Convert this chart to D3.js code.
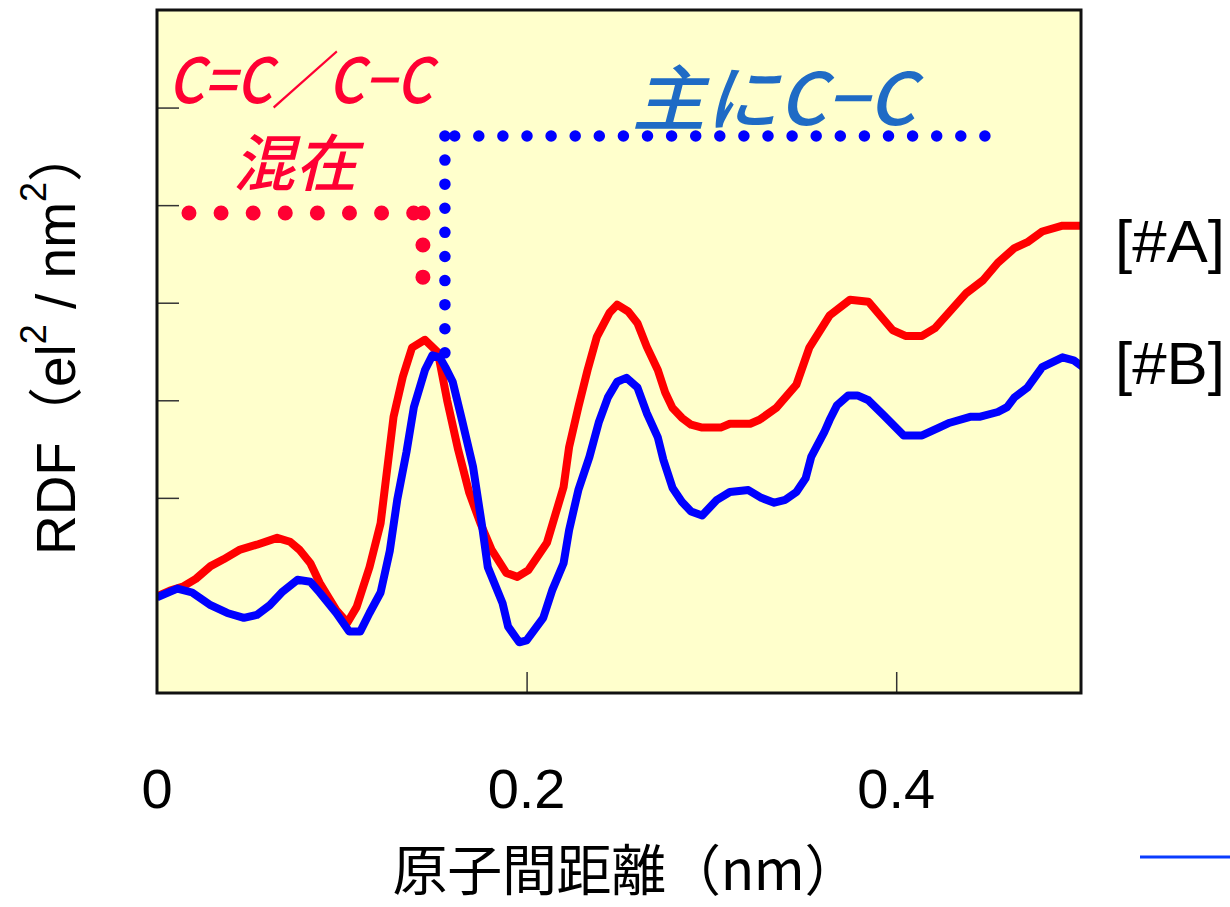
<!DOCTYPE html>
<html><head><meta charset="utf-8">
<script src="https://cdn.jsdelivr.net/npm/d3@7"></script>
<style>
html,body{margin:0;padding:0;background:#fff;}
svg{display:block;}
</style></head>
<body>
<svg id="chart" width="1230" height="907"></svg>
<script>
// ---- data ----
const seriesA_x = [0.000,0.007,0.014,0.021,0.029,0.036,0.045,0.054,0.065,0.072,0.077,0.083,0.088,0.097,0.103,0.108,0.115,0.121,0.128,0.133,0.138,0.145,0.152,0.157,0.163,0.169,0.175,0.181,0.189,0.195,0.201,0.211,0.220,0.223,0.228,0.233,0.238,0.245,0.249,0.255,0.260,0.265,0.271,0.275,0.279,0.284,0.289,0.295,0.305,0.310,0.321,0.326,0.335,0.346,0.353,0.364,0.375,0.385,0.398,0.405,0.414,0.421,0.438,0.447,0.455,0.464,0.471,0.479,0.490,0.500];
const seriesA_y = [0.99,1.05,1.09,1.17,1.30,1.37,1.47,1.52,1.59,1.55,1.47,1.33,1.13,0.85,0.72,0.88,1.29,1.74,2.83,3.24,3.54,3.62,3.49,3.00,2.49,2.05,1.74,1.47,1.23,1.19,1.26,1.54,2.11,2.52,2.93,3.31,3.65,3.90,3.98,3.91,3.79,3.55,3.31,3.08,2.92,2.82,2.75,2.72,2.72,2.76,2.76,2.80,2.92,3.16,3.54,3.87,4.03,4.01,3.72,3.66,3.66,3.74,4.10,4.23,4.41,4.56,4.62,4.73,4.79,4.79];
const seriesB_x = [0.000,0.011,0.019,0.029,0.038,0.047,0.054,0.061,0.068,0.076,0.083,0.088,0.097,0.104,0.110,0.115,0.121,0.126,0.130,0.135,0.139,0.145,0.149,0.153,0.156,0.160,0.165,0.171,0.176,0.179,0.187,0.190,0.196,0.200,0.209,0.214,0.220,0.223,0.228,0.234,0.239,0.244,0.249,0.254,0.260,0.265,0.271,0.274,0.279,0.284,0.289,0.295,0.303,0.310,0.320,0.327,0.334,0.340,0.346,0.351,0.354,0.361,0.364,0.368,0.374,0.379,0.385,0.393,0.404,0.414,0.422,0.429,0.440,0.445,0.455,0.460,0.464,0.471,0.479,0.490,0.496,0.501];
const seriesB_y = [0.98,1.07,1.03,0.90,0.82,0.77,0.80,0.90,1.04,1.16,1.14,1.03,0.82,0.63,0.63,0.82,1.03,1.46,1.98,2.47,2.93,3.31,3.46,3.44,3.34,3.19,2.80,2.32,1.70,1.29,0.92,0.68,0.52,0.54,0.77,1.06,1.33,1.67,2.08,2.42,2.77,3.03,3.19,3.23,3.13,2.87,2.62,2.39,2.10,1.96,1.86,1.82,1.98,2.06,2.08,2.00,1.95,1.98,2.06,2.20,2.42,2.67,2.80,2.95,3.05,3.05,3.00,2.85,2.64,2.64,2.71,2.77,2.83,2.83,2.88,2.93,3.03,3.13,3.34,3.44,3.41,3.34];
const seriesNames = ["[#A]", "[#B]"];
const yTickValues = [2, 3, 4, 5, 6];
const xTickValues = [0.2, 0.4];
const xLabelValues = [0, 0.2, 0.4];
const xLabelTexts = ["0", "0.2", "0.4"];

// ---- layout ----
const svg = d3.select("#chart");
const L = 157, R = 1081, T = 10, B = 693;
const x = d3.scaleLinear().domain([0, 0.5]).range([L, R]);
const y = d3.scaleLinear().domain([0, 7]).range([B, T]);
const FONT = "'Liberation Sans', Arial, 'Noto Sans CJK JP', sans-serif";
const CJK = "'Noto Sans CJK JP', 'Liberation Sans', sans-serif";

svg.append("defs").append("clipPath").attr("id", "clip")
  .append("rect").attr("x", L).attr("y", T).attr("width", R - L).attr("height", B - T);

// plot background
svg.append("rect").attr("x", L).attr("y", T).attr("width", R - L).attr("height", B - T)
  .attr("fill", "#ffffcc");

// ticks
const yAxis = d3.axisLeft(y).tickValues(yTickValues).tickSize(-22).tickFormat("");
const gy = svg.append("g").attr("transform", `translate(${L},0)`).call(yAxis);
gy.select(".domain").remove();
gy.selectAll("line").attr("stroke", "#333").attr("stroke-width", 1.5);
const xAxis = d3.axisBottom(x).tickValues(xTickValues).tickSize(-21).tickFormat("");
const gx = svg.append("g").attr("transform", `translate(0,${B})`).call(xAxis);
gx.select(".domain").remove();
gx.selectAll("line").attr("stroke", "#333").attr("stroke-width", 1.5);

// curves
const line = d3.line().x(d => x(d[0])).y(d => y(d[1]));
const dataA = seriesA_x.map((v, i) => [v, seriesA_y[i]]);
const dataB = seriesB_x.map((v, i) => [v, seriesB_y[i]]);
const gLines = svg.append("g").attr("clip-path", "url(#clip)");
gLines.append("path").datum(dataA).attr("d", line)
  .attr("fill", "none").attr("stroke", "#ff0000").attr("stroke-width", 8)
  .attr("stroke-linejoin", "round");
gLines.append("path").datum(dataB).attr("d", line)
  .attr("fill", "none").attr("stroke", "#0000ff").attr("stroke-width", 8)
  .attr("stroke-linejoin", "round");

// frame
svg.append("rect").attr("x", L).attr("y", T).attr("width", R - L).attr("height", B - T)
  .attr("fill", "none").attr("stroke", "#111").attr("stroke-width", 3);

// dotted annotation lines
function dotted(x1, y1, x2, y2, color, w, gap) {
  svg.append("path")
    .attr("d", `M${x1},${y1}L${x2},${y2}`)
    .attr("fill", "none").attr("stroke", color).attr("stroke-width", w)
    .attr("stroke-linecap", "round").attr("stroke-dasharray", `0 ${gap}`);
}
const redDot = "#ff0033", blueDot = "#0000ff";
dotted(x(0.0173), y(4.92), x(0.1439), y(4.92), redDot, 15, 32.1);
dotted(x(0.1439), y(4.92), x(0.1439), y(3.935), redDot, 15, 32.1);
dotted(x(0.448), y(5.709), x(0.1558), y(5.709), blueDot, 11.5, 24.1);
dotted(x(0.1558), y(5.709), x(0.1558), y(3.485), blueDot, 11.5, 24.1);

// annotation texts
svg.append("text").attr("x", 168).attr("y", 103)
  .attr("font-family", CJK).attr("font-size", 62).attr("font-style", "italic").attr("font-weight", 500)
  .attr("fill", "#ff0033").attr("textLength", 264).attr("lengthAdjust", "spacingAndGlyphs")
  .text("C=C／C−C");
svg.append("text").attr("x", 233).attr("y", 186)
  .attr("font-family", CJK).attr("font-size", 62).attr("font-style", "italic").attr("font-weight", 500)
  .attr("fill", "#ff0033")
  .text("混在");
svg.append("text").attr("x", 632).attr("y", 125)
  .attr("font-family", CJK).attr("font-size", 72).attr("font-style", "italic").attr("font-weight", 500)
  .attr("fill", "#1f6bc5").attr("textLength", 283).attr("lengthAdjust", "spacingAndGlyphs")
  .text("主にC−C");

// series labels
svg.append("text").attr("x", 1115).attr("y", 262)
  .attr("font-family", FONT).attr("font-size", 60).attr("fill", "#000")
  .attr("textLength", 110).attr("lengthAdjust", "spacingAndGlyphs").text(seriesNames[0]);
svg.append("text").attr("x", 1115).attr("y", 384)
  .attr("font-family", FONT).attr("font-size", 60).attr("fill", "#000")
  .attr("textLength", 110).attr("lengthAdjust", "spacingAndGlyphs").text(seriesNames[1]);

// x tick labels
svg.append("g").selectAll("text").data(xLabelValues).join("text")
  .attr("x", d => x(d)).attr("y", 808)
  .attr("text-anchor", "middle")
  .attr("font-family", FONT).attr("font-size", 56).attr("fill", "#000")
  .text((d, i) => xLabelTexts[i]);

// x title
svg.append("text").attr("x", 626).attr("y", 890)
  .attr("text-anchor", "middle")
  .attr("font-family", CJK).attr("font-size", 55).attr("fill", "#000")
  .attr("textLength", 467).attr("lengthAdjust", "spacing")
  .text("原子間距離（nm）");

// y title
const yt = svg.append("text")
  .attr("transform", "translate(75,341) rotate(-90)")
  .attr("text-anchor", "middle")
  .attr("font-family", FONT).attr("font-size", 55).attr("fill", "#000");
yt.append("tspan").text("RDF（el");
yt.append("tspan").attr("dy", -29).attr("font-size", 36).text("2");
yt.append("tspan").attr("dy", 29).text(" / nm");
yt.append("tspan").attr("dy", -29).attr("font-size", 36).text("2");
yt.append("tspan").attr("dy", 29).text("）");

// stray blue line at bottom right
svg.append("line").attr("x1", 1140).attr("x2", 1230).attr("y1", 857).attr("y2", 857)
  .attr("stroke", "#0a3cff").attr("stroke-width", 3);
</script>
</body></html>
